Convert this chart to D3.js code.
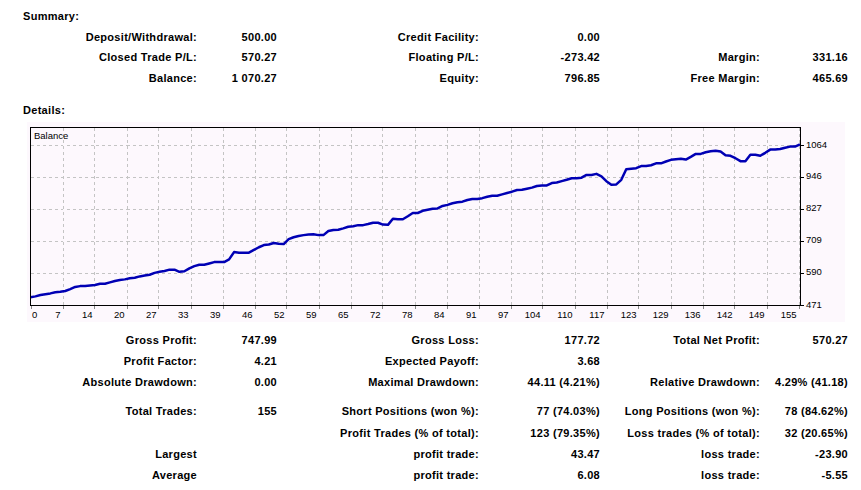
<!DOCTYPE html>
<html>
<head>
<meta charset="utf-8">
<script src="https://cdn.jsdelivr.net/npm/d3@7/dist/d3.min.js"></script>
<style>
  body { margin: 0; background: #fff; }
  svg { display: block; }
  .lbl { font-family: "Liberation Sans", Arial, sans-serif; font-size: 11px; font-weight: bold; letter-spacing: 0.3px; fill: #000; }
  .axis-text { font-family: "Liberation Sans", Arial, sans-serif; font-size: 9.5px; fill: #000; }
</style>
</head>
<body>
<div class="container"></div>
<script>
// balance after each trade (0 = initial deposit)
const balance = [
  500, 503, 508, 511, 514, 518, 520, 523, 530, 538,
  541, 541, 543, 545, 550, 550, 555, 560, 564, 566,
  570, 572, 577, 580, 583, 590, 594, 597, 602, 602,
  594, 596, 607, 615, 620, 620, 625, 630, 630, 630,
  640, 667, 665, 665, 665, 675, 685, 693, 695, 701,
  698, 697, 715, 722, 727, 730, 732, 733, 730, 730,
  745, 749, 750, 755, 761, 763, 767, 767, 771, 776,
  776, 769, 768, 791, 789, 789, 800, 812, 812, 820,
  824, 828, 829, 838, 842, 848, 852, 854, 860, 864,
  864, 867, 872, 876, 876, 881, 886, 891, 897, 898,
  902, 906, 912, 914, 914, 923, 925, 930, 935, 941,
  941, 943, 953, 953, 957, 948, 930, 917, 918, 935,
  974, 976, 978, 986, 986, 989, 996, 996, 1003, 1009,
  1011, 1013, 1010, 1020, 1031, 1031, 1037, 1041, 1043, 1040,
  1026, 1024, 1015, 1004, 1004, 1028, 1028, 1024, 1035, 1047,
  1047, 1049, 1054, 1058, 1058, 1066
];

const xTickLabels = [0, 7, 14, 20, 27, 33, 39, 46, 52, 59, 65, 72, 78, 84, 91, 97, 104, 110, 117, 123, 129, 136, 142, 149, 155];
const yTickLabels = [471, 590, 709, 827, 946, 1064];

// summary block rows: label, value, label, value, label, value
const summaryRows = [
  ["Deposit/Withdrawal:", "500.00", "Credit Facility:", "0.00", "", ""],
  ["Closed Trade P/L:", "570.27", "Floating P/L:", "-273.42", "Margin:", "331.16"],
  ["Balance:", "1 070.27", "Equity:", "796.85", "Free Margin:", "465.69"]
];
const summaryY = [41, 61, 82];

// details block rows
const detailRows = [
  ["Gross Profit:", "747.99", "Gross Loss:", "177.72", "Total Net Profit:", "570.27"],
  ["Profit Factor:", "4.21", "Expected Payoff:", "3.68", "", ""],
  ["Absolute Drawdown:", "0.00", "Maximal Drawdown:", "44.11 (4.21%)", "Relative Drawdown:", "4.29% (41.18)"],
  ["Total Trades:", "155", "Short Positions (won %):", "77 (74.03%)", "Long Positions (won %):", "78 (84.62%)"],
  ["", "", "Profit Trades (% of total):", "123 (79.35%)", "Loss trades (% of total):", "32 (20.65%)"],
  ["Largest", "", "profit trade:", "43.47", "loss trade:", "-23.90"],
  ["Average", "", "profit trade:", "6.08", "loss trade:", "-5.55"]
];
const detailY = [344, 365, 386, 415, 437, 458, 479];

// right edges of the six text columns
const colRight = [197, 277, 479, 600, 760, 848];

const width = 861;
const height = 490;

const svg = d3.select(".container")
  .append("svg")
  .attr("width", width)
  .attr("height", height);

svg.append("rect").attr("width", width).attr("height", height).attr("fill", "#fff");

// headings
svg.append("text").attr("class", "lbl").attr("x", 23).attr("y", 20).text("Summary:");
svg.append("text").attr("class", "lbl").attr("x", 23).attr("y", 114).text("Details:");

// draw a block of right-aligned columns
const drawRows = (rows, ys) => {
  rows.forEach((row, r) => {
    row.forEach((t, c) => {
      if (!t) return;
      svg.append("text")
        .attr("class", "lbl")
        .attr("x", colRight[c])
        .attr("y", ys[r])
        .attr("text-anchor", "end")
        .text(t);
    });
  });
};
drawRows(summaryRows, summaryY);
drawRows(detailRows, detailY);

// chart panel
const frame = { left: 30.5, right: 800.5, top: 127.5, bottom: 305.5 };

svg.append("rect")
  .attr("x", 27).attr("y", 122)
  .attr("width", 818).attr("height", 200)
  .attr("fill", "#fdf8fd");

const x = d3.scaleLinear().domain([0, balance.length - 1]).range([frame.left, 800]);
const y = d3.scaleLinear().domain([471, 1064]).range([305, 145]);
// tick labels sit at equal pixel steps
const xt = d3.scaleLinear().domain([0, xTickLabels.length - 1]).range([frame.left, 798.5]);

const grid = svg.append("g")
  .attr("stroke", "#c4c4c4")
  .attr("stroke-dasharray", "3,3")
  .attr("shape-rendering", "crispEdges");

grid.selectAll(".vg")
  .data(xTickLabels.slice(1))
  .enter()
  .append("line")
  .attr("x1", (d, i) => Math.round(xt(i + 1)) + 0.5)
  .attr("x2", (d, i) => Math.round(xt(i + 1)) + 0.5)
  .attr("y1", frame.top)
  .attr("y2", frame.bottom);

grid.selectAll(".hg")
  .data(yTickLabels.slice(1))
  .enter()
  .append("line")
  .attr("x1", frame.left)
  .attr("x2", frame.right)
  .attr("y1", (d) => Math.round(y(d)) + 0.5)
  .attr("y2", (d) => Math.round(y(d)) + 0.5);

// x ticks and labels
svg.append("g")
  .selectAll("line")
  .data(xTickLabels)
  .enter()
  .append("line")
  .attr("x1", (d, i) => Math.round(xt(i)) + 0.5)
  .attr("x2", (d, i) => Math.round(xt(i)) + 0.5)
  .attr("y1", frame.bottom)
  .attr("y2", frame.bottom + 3)
  .attr("stroke", "#888")
  .attr("shape-rendering", "crispEdges");

svg.append("g")
  .selectAll("text")
  .data(xTickLabels)
  .enter()
  .append("text")
  .attr("class", "axis-text")
  .attr("x", (d, i) => i === 0 ? xt(i) + 1.5 : xt(i) - 2)
  .attr("y", 318)
  .attr("text-anchor", (d, i) => i === 0 ? "start" : "end")
  .text((d) => d);

// y ticks and labels on the right
svg.append("g")
  .selectAll("line")
  .data(yTickLabels)
  .enter()
  .append("line")
  .attr("x1", frame.right)
  .attr("x2", frame.right + 3)
  .attr("y1", (d) => Math.round(y(d)) + 0.5)
  .attr("y2", (d) => Math.round(y(d)) + 0.5)
  .attr("stroke", "#000")
  .attr("shape-rendering", "crispEdges");

svg.append("g")
  .selectAll("text")
  .data(yTickLabels)
  .enter()
  .append("text")
  .attr("class", "axis-text")
  .attr("x", 806)
  .attr("y", (d) => y(d) + 2.5)
  .text((d) => d);

// balance line
svg.append("path")
  .datum(balance)
  .attr("fill", "none")
  .attr("stroke", "#0000b4")
  .attr("stroke-width", 2.5)
  .attr("stroke-linejoin", "round")
  .attr("d", d3.line().x((d, i) => x(i)).y((d) => y(d)));

// frame
svg.append("rect")
  .attr("x", frame.left).attr("y", frame.top)
  .attr("width", frame.right - frame.left)
  .attr("height", frame.bottom - frame.top)
  .attr("fill", "none")
  .attr("stroke", "#000")
  .attr("shape-rendering", "crispEdges");

svg.append("text").attr("class", "axis-text").attr("x", 34).attr("y", 139).text("Balance");
</script>
</body>
</html>
